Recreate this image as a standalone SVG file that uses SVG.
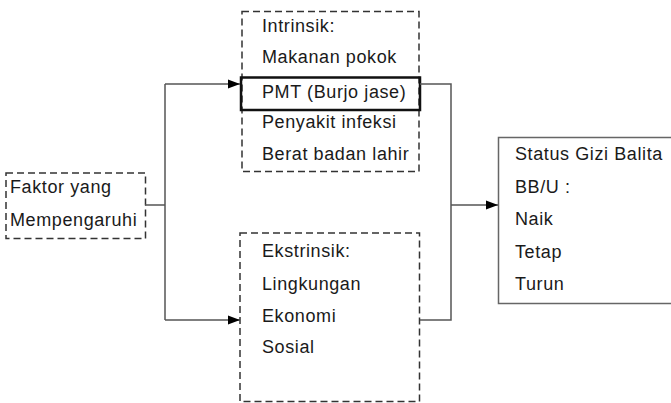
<svg xmlns="http://www.w3.org/2000/svg" width="671" height="403" viewBox="0 0 671 403">
<defs>
<style>
text{font-family:"Liberation Sans",Arial,sans-serif;font-size:18px;fill:#1a1a1a;letter-spacing:0.6px}
.dash{fill:#fff;stroke:#333;stroke-width:1.5;stroke-dasharray:7 4}
.solid{fill:#fff;stroke:#666;stroke-width:1.5}
.thick{fill:none;stroke:#111;stroke-width:2.5}
.conn{fill:none;stroke:#555;stroke-width:1.5}
</style>
<marker id="arr" viewBox="0 0 12 10" refX="12" refY="5" markerWidth="12" markerHeight="10" markerUnits="userSpaceOnUse" orient="auto">
<path d="M0,0.5 L12,5 L0,9.5 Z" fill="#000"/>
</marker>
</defs>
<rect width="671" height="403" fill="#fff"/>
<g id="faktor">
<rect class="dash" x="6" y="173" width="139.5" height="65.5"/>
<text x="10" y="193">Faktor yang</text>
<text x="10" y="226">Mempengaruhi</text>
</g>
<g id="intrinsik">
<rect class="dash" x="242" y="11.5" width="177" height="160"/>
<text x="262" y="32">Intrinsik:</text>
<text x="262" y="63">Makanan pokok</text>
<text x="262" y="128">Penyakit infeksi</text>
<text x="262" y="160">Berat badan lahir</text>
</g>
<g id="pmt">
<rect class="thick" x="241" y="77.5" width="179" height="32.5"/>
<text x="262" y="98">PMT (Burjo jase)</text>
</g>
<g id="ekstrinsik">
<rect class="dash" x="240" y="233" width="179.5" height="168.5"/>
<text x="262" y="257">Ekstrinsik:</text>
<text x="262" y="290">Lingkungan</text>
<text x="262" y="322">Ekonomi</text>
<text x="262" y="353">Sosial</text>
</g>
<g id="status">
<rect class="solid" x="498.5" y="137.5" width="180" height="166"/>
<text x="515" y="160">Status Gizi Balita</text>
<text x="515" y="193">BB/U :</text>
<text x="515" y="225">Naik</text>
<text x="515" y="258">Tetap</text>
<text x="515" y="290">Turun</text>
</g>
<g id="connectors">
<polyline class="conn" points="145,205 165,205"/>
<polyline class="conn" points="165,84 165,320"/>
<polyline class="conn" points="165,84 240,84" marker-end="url(#arr)"/>
<polyline class="conn" points="165,320 240,320" marker-end="url(#arr)"/>
<polyline class="conn" points="420,84 451,84 451,320 420,320"/>
<polyline class="conn" points="451,205 498,205" marker-end="url(#arr)"/>
</g>
</svg>
